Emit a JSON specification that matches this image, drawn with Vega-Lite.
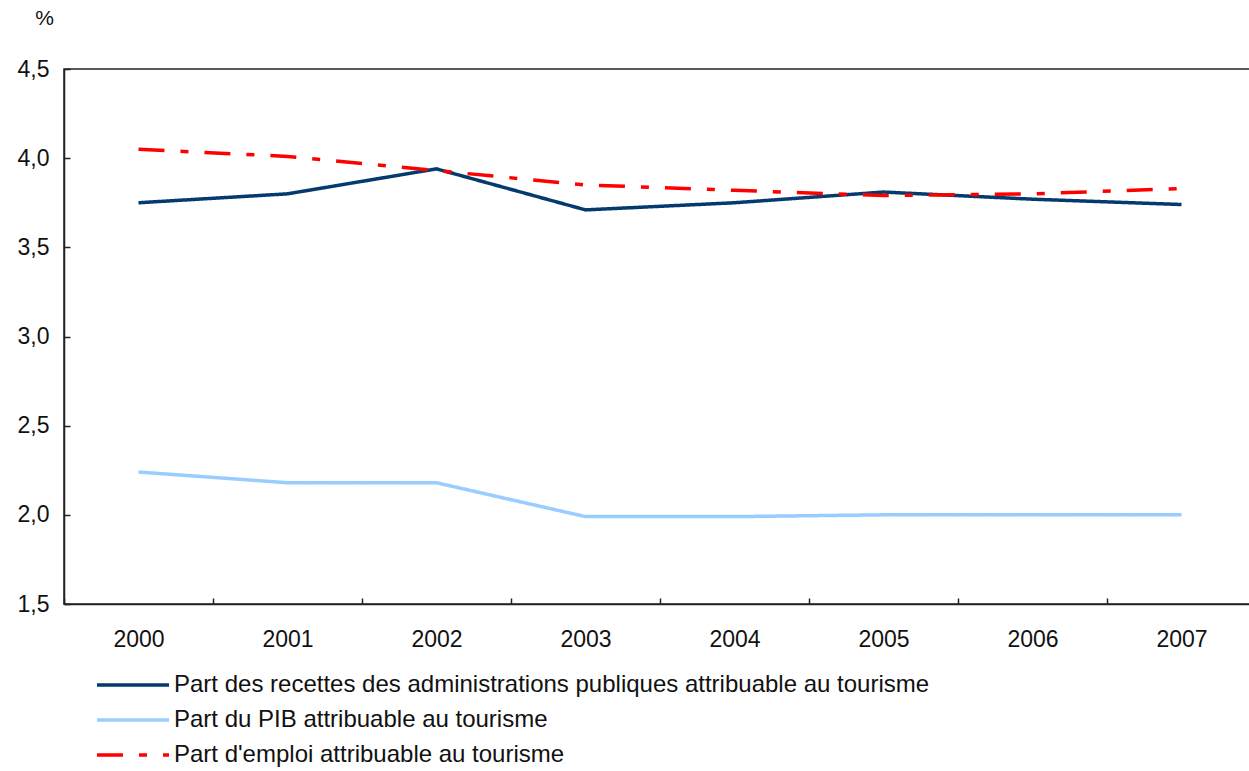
{
  "$schema": "https://vega.github.io/schema/vega-lite/v6.json",
  "width": 1192,
  "height": 535,
  "autosize": {"type": "none"},
  "padding": {"left": 64, "top": 69, "right": 0, "bottom": 167},
  "background": "white",
  "config": {
    "font": "Liberation Sans",
    "view": {"stroke": "#222", "strokeWidth": 1.5},
    "axis": {"grid": false, "domainColor": "#222", "domainWidth": 1.5, "tickColor": "#222", "tickWidth": 1.5, "labelColor": "#111", "labelFont": "Liberation Sans", "labelFontSize": 23}
  },
  "data": {
    "values": [
      {"annee": "2000", "serie": "Part des recettes des administrations publiques attribuable au tourisme", "valeur": 3.75},
      {"annee": "2001", "serie": "Part des recettes des administrations publiques attribuable au tourisme", "valeur": 3.80},
      {"annee": "2002", "serie": "Part des recettes des administrations publiques attribuable au tourisme", "valeur": 3.94},
      {"annee": "2003", "serie": "Part des recettes des administrations publiques attribuable au tourisme", "valeur": 3.71},
      {"annee": "2004", "serie": "Part des recettes des administrations publiques attribuable au tourisme", "valeur": 3.75},
      {"annee": "2005", "serie": "Part des recettes des administrations publiques attribuable au tourisme", "valeur": 3.81},
      {"annee": "2006", "serie": "Part des recettes des administrations publiques attribuable au tourisme", "valeur": 3.77},
      {"annee": "2007", "serie": "Part des recettes des administrations publiques attribuable au tourisme", "valeur": 3.74},
      {"annee": "2000", "serie": "Part du PIB attribuable au tourisme", "valeur": 2.24},
      {"annee": "2001", "serie": "Part du PIB attribuable au tourisme", "valeur": 2.18},
      {"annee": "2002", "serie": "Part du PIB attribuable au tourisme", "valeur": 2.18},
      {"annee": "2003", "serie": "Part du PIB attribuable au tourisme", "valeur": 1.99},
      {"annee": "2004", "serie": "Part du PIB attribuable au tourisme", "valeur": 1.99},
      {"annee": "2005", "serie": "Part du PIB attribuable au tourisme", "valeur": 2.0},
      {"annee": "2006", "serie": "Part du PIB attribuable au tourisme", "valeur": 2.0},
      {"annee": "2007", "serie": "Part du PIB attribuable au tourisme", "valeur": 2.0},
      {"annee": "2000", "serie": "Part d'emploi attribuable au tourisme", "valeur": 4.05},
      {"annee": "2001", "serie": "Part d'emploi attribuable au tourisme", "valeur": 4.01},
      {"annee": "2002", "serie": "Part d'emploi attribuable au tourisme", "valeur": 3.93},
      {"annee": "2003", "serie": "Part d'emploi attribuable au tourisme", "valeur": 3.85},
      {"annee": "2004", "serie": "Part d'emploi attribuable au tourisme", "valeur": 3.82},
      {"annee": "2005", "serie": "Part d'emploi attribuable au tourisme", "valeur": 3.79},
      {"annee": "2006", "serie": "Part d'emploi attribuable au tourisme", "valeur": 3.80},
      {"annee": "2007", "serie": "Part d'emploi attribuable au tourisme", "valeur": 3.83}
    ]
  },
  "mark": {"type": "line", "strokeCap": "butt", "strokeJoin": "miter"},
  "encoding": {
    "x": {
      "field": "annee", "type": "ordinal", "bandPosition": 0.5,
      "scale": {"type": "band", "paddingInner": 0, "paddingOuter": 0},
      "axis": {"title": null, "labelAngle": 0, "tickBand": "extent", "tickSize": -6, "labelPadding": 30}
    },
    "y": {
      "field": "valeur", "type": "quantitative",
      "scale": {"domain": [1.5, 4.5], "nice": false, "zero": false},
      "axis": {
        "values": [1.5, 2.0, 2.5, 3.0, 3.5, 4.0, 4.5],
        "labelExpr": "replace(format(datum.value, '.1f'), '.', ',')",
        "tickSize": -6, "labelPadding": 21,
        "title": "%", "titleAngle": 0, "titleX": -20, "titleY": -51,
        "titleAlign": "center", "titleBaseline": "middle",
        "titleFontSize": 21, "titleFontWeight": "normal", "titleColor": "#111", "titleFont": "Liberation Sans"
      }
    },
    "color": {
      "field": "serie", "type": "nominal",
      "scale": {
        "domain": ["Part des recettes des administrations publiques attribuable au tourisme", "Part du PIB attribuable au tourisme", "Part d'emploi attribuable au tourisme"],
        "range": ["#043a6e", "#99ccff", "#ff0000"]
      },
      "legend": {
        "title": null, "orient": "none", "legendX": 52, "legendY": 599,
        "direction": "vertical", "symbolType": "M-2.4,0H2.4", "symbolSize": 900,
        "labelFontSize": 24, "labelColor": "#111", "labelFont": "Liberation Sans", "labelLimit": 2000,
        "labelOffset": 24, "rowPadding": 6, "symbolStrokeWidth": 3.5, "symbolFillColor": "transparent"
      }
    },
    "strokeDash": {
      "field": "serie", "type": "nominal",
      "scale": {
        "domain": ["Part des recettes des administrations publiques attribuable au tourisme", "Part du PIB attribuable au tourisme", "Part d'emploi attribuable au tourisme"],
        "range": [[1, 0], [1, 0], [26, 16, 8, 16]]
      },
      "legend": null
    },
    "strokeWidth": {"value": 3.5}
  }
}
